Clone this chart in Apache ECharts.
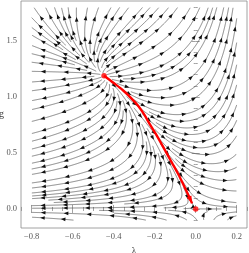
<!DOCTYPE html>
<html><head><meta charset="utf-8">
<script src="https://cdn.jsdelivr.net/npm/echarts@6/dist/echarts.min.js"></script>
<style>html,body{margin:0;padding:0;background:#fff}#c{width:249px;height:253px}</style>
</head><body><div id="c"></div>
<script>
// ---------- data ----------
const xRange = [-0.852, 0.25];          // plotted lambda range
const yRange = [-0.17, 1.857];          // plotted g range
const streamX = [-0.8, 0.2];            // stream plot region (lambda)
const streamY = [-0.1, 1.8];            // stream plot region (g)
const xMajorTicks = [-0.8, -0.6, -0.4, -0.2, 0.0, 0.2];
const xMinorTicks = [-0.85, -0.75, -0.7, -0.65, -0.55, -0.5, -0.45, -0.35, -0.3, -0.25, -0.15, -0.1, -0.05, 0.05, 0.1, 0.15, 0.25];
const yMajorTicks = [0.0, 0.5, 1.0, 1.5];
const yMinorTicks = [-0.1, 0.1, 0.2, 0.3, 0.4, 0.6, 0.7, 0.8, 0.9, 1.1, 1.2, 1.3, 1.4, 1.6, 1.7, 1.8];
const fixedPoints = [[0.0, 0.0], [-0.447, 1.19]];   // Gaussian and non-Gaussian fixed points
// highlighted trajectory (red): lambda and g values
const redLambda = [-0.447, -0.40, -0.355, -0.315, -0.28, -0.25, -0.222, -0.185, -0.15, -0.115, -0.085, -0.057, -0.035, -0.018];
const redG      = [1.19, 1.125, 1.06, 0.99, 0.92, 0.84, 0.75, 0.64, 0.525, 0.41, 0.31, 0.205, 0.12, 0.05];
// flow field coefficients (IR direction):  dλ = 2λ + g·p(λ),  dg = g·(−2 + g·a(λ))
const aGrowth = 9.0, aAmp = 1.65;    // a(λ) = a0 + aAmp·exp(aGrowth·λ)
const pSlope = 0.672;                // p(λ) = p0 + pSlope·(λ − λ*)

// ---------- flow ----------
const LS = fixedPoints[1][0], GS = fixedPoints[1][1];
const a0 = 2 / GS - aAmp * Math.exp(aGrowth * LS);
const p0 = -2 * LS / GS;
function field(l, g) {
  const a = a0 + aAmp * Math.exp(aGrowth * l);
  const p = p0 + pSlope * (l - LS);
  return [2 * l + g * p, g * (-2 + g * a)];
}

// ---------- layout ----------
const GRID = { left: 21, right: 2, top: 1, bottom: 25 };
const PW = 249 - GRID.left - GRID.right, PH = 253 - GRID.top - GRID.bottom;
const kx = PW / (xRange[1] - xRange[0]), ky = PH / (yRange[1] - yRange[0]);
function toP(l, g) { return [(l - xRange[0]) * kx, (g - yRange[0]) * ky]; }
function toD(X, Y) { return [xRange[0] + X / kx, yRange[0] + Y / ky]; }
const pMin = toP(streamX[0], streamY[0]), pMax = toP(streamX[1], streamY[1]);
function dirAt(X, Y) {
  const d = toD(X, Y); const f = field(d[0], d[1]);
  const vx = f[0] * kx, vy = f[1] * ky; const n = Math.hypot(vx, vy);
  if (!(n > 1e-12)) return null; return [vx / n, vy / n];
}
function rk(X, Y, h) {
  const k1 = dirAt(X, Y); if (!k1) return null;
  const k2 = dirAt(X + 0.5 * h * k1[0], Y + 0.5 * h * k1[1]); if (!k2) return null;
  const k3 = dirAt(X + 0.5 * h * k2[0], Y + 0.5 * h * k2[1]); if (!k3) return null;
  const k4 = dirAt(X + h * k3[0], Y + h * k3[1]); if (!k4) return null;
  return [X + h * (k1[0] + 2 * k2[0] + 2 * k3[0] + k4[0]) / 6, Y + h * (k1[1] + 2 * k2[1] + 2 * k3[1] + k4[1]) / 6];
}
const fpP = fixedPoints.map(p => toP(p[0], p[1]));
const inside = (X, Y) => X >= pMin[0] && X <= pMax[0] && Y >= pMin[1] && Y <= pMax[1];

// ---------- evenly spaced streamlines ----------
const DSEP = 6.5, DTEST = 2.6, STEP = 0.5;
const cell = DSEP, gw = Math.ceil(PW / cell) + 2, gh = Math.ceil(PH / cell) + 2;
const buckets = Array.from({ length: gw * gh }, () => []);
function addPt(X, Y, id) { const i = Math.floor(X / cell), j = Math.floor(Y / cell); if (i >= 0 && j >= 0 && i < gw && j < gh) buckets[j * gw + i].push([X, Y, id]); }
function minDist(X, Y, id) {
  const i = Math.floor(X / cell), j = Math.floor(Y / cell); let m = 1e9;
  for (let a = i - 1; a <= i + 1; a++) for (let b = j - 1; b <= j + 1; b++) {
    if (a < 0 || b < 0 || a >= gw || b >= gh) continue;
    for (const p of buckets[b * gw + a]) { if (p[2] === id) continue; const d = Math.hypot(p[0] - X, p[1] - Y); if (d < m) m = d; }
  }
  return m;
}
const lines = [];
function trace(X, Y, sign, id) {
  const pts = []; let prev = null;
  for (let s = 0; s < 2500; s++) {
    const n = rk(X, Y, STEP * sign); if (!n) break;
    if (!inside(n[0], n[1])) break;
    if (fpP.some(f => Math.hypot(n[0] - f[0], n[1] - f[1]) < 2.5)) break;
    if (minDist(n[0], n[1], id) < DTEST) break;
    if (prev) { const d1x = X - prev[0], d1y = Y - prev[1], d2x = n[0] - X, d2y = n[1] - Y; if (d1x * d2x + d1y * d2y < 0) break; }
    prev = [X, Y]; X = n[0]; Y = n[1]; pts.push([X, Y]);
  }
  return pts;
}
const queue = [];
function tryLine(X, Y) {
  if (!inside(X, Y) || minDist(X, Y, -1) < DSEP) return;
  if (fpP.some(f => Math.hypot(X - f[0], Y - f[1]) < 3)) return;
  const id = lines.length;
  const b = trace(X, Y, -1, id).reverse();
  const f = trace(X, Y, 1, id);
  const pts = b.concat([[X, Y]], f);
  if (pts.length * STEP < 9) return;
  lines.push(pts); pts.forEach(p => addPt(p[0], p[1], id)); queue.push(pts);
}
function drain() {
  while (queue.length) {
    const p = queue.shift();
    for (let i = 2; i < p.length - 2; i += 4) {
      const tx = p[i + 1][0] - p[i - 1][0], ty = p[i + 1][1] - p[i - 1][1], n = Math.hypot(tx, ty) || 1;
      const nx = -ty / n, ny = tx / n;
      tryLine(p[i][0] + nx * DSEP, p[i][1] + ny * DSEP);
      tryLine(p[i][0] - nx * DSEP, p[i][1] - ny * DSEP);
    }
  }
}
tryLine((pMin[0] + pMax[0]) / 2, (pMin[1] + pMax[1]) / 2); drain();
for (let Y = pMin[1] + 1; Y < pMax[1]; Y += DSEP / 2) for (let X = pMin[0] + 1; X < pMax[0]; X += DSEP / 2) { tryLine(X, Y); drain(); }
const streamData = lines.map(pts => pts.map(p => toD(p[0], p[1])));
const redData = redLambda.map((l, i) => [l, redG[i]]);

// ---------- rendering ----------
function arrowsAlong(pts, spacing) {
  let L = 0; for (let i = 1; i < pts.length; i++) L += Math.hypot(pts[i][0] - pts[i - 1][0], pts[i][1] - pts[i - 1][1]);
  if (L < 8) return [];
  const n = Math.max(1, Math.round(L / spacing)); const out = []; let acc = 0, k = 0;
  for (let i = 1; i < pts.length && k < n; i++) {
    const dx = pts[i][0] - pts[i - 1][0], dy = pts[i][1] - pts[i - 1][1], l = Math.hypot(dx, dy);
    if (l === 0) continue;
    while (k < n && acc + l >= (k + 0.5) * L / n) { const t = ((k + 0.5) * L / n - acc) / l; out.push([pts[i - 1][0] + dx * t, pts[i - 1][1] + dy * t, dx / l, dy / l]); k++; }
    acc += l;
  }
  return out;
}
function tri(x, y, ux, uy, len, hw) {
  const tx = x + ux * len * 0.5, ty = y + uy * len * 0.5, bx = x - ux * len * 0.5, by = y - uy * len * 0.5;
  return [[tx, ty], [bx - uy * hw, by + ux * hw], [bx + uy * hw, by - ux * hw]];
}
const fontFam = '"Liberation Serif", "DejaVu Serif", serif';
const fmt = v => (v < 0 ? '\u2212' : '') + Math.abs(v).toFixed(1);
function xAxisDef(pos, ticks, len, labels, name) {
  return {
    type: 'value', gridIndex: 0, position: pos, min: xRange[0], max: xRange[1],
    axisLine: { show: false }, splitLine: { show: false },
    axisTick: { show: true, inside: true, length: len, customValues: ticks, lineStyle: { color: '#8a8a8a', width: 0.8 } },
    axisLabel: { show: labels, customValues: xMajorTicks, formatter: fmt, fontFamily: fontFam, fontSize: 8.5, color: '#555', margin: 4 },
    name: name || '', nameLocation: 'middle', nameGap: 15, nameTextStyle: { fontFamily: fontFam, fontSize: 10, color: '#444' }
  };
}
function yAxisDef(pos, ticks, len, labels) {
  return {
    type: 'value', gridIndex: 0, position: pos, min: yRange[0], max: yRange[1],
    axisLine: { show: false }, splitLine: { show: false },
    axisTick: { show: true, inside: true, length: len, customValues: ticks, lineStyle: { color: '#8a8a8a', width: 0.8 } },
    axisLabel: { show: labels, customValues: yMajorTicks, formatter: fmt, fontFamily: fontFam, fontSize: 8.5, color: '#555', margin: 4 }
  };
}
const series = [
  {
    type: 'custom', xAxisIndex: 0, yAxisIndex: 0, silent: true, clip: true,
    data: streamData.map((l, i) => [l[0][0], l[0][1], i]),
    encode: { x: 0, y: 1 },
    renderItem: function (params, api) {
      const line = streamData[params.dataIndex];
      const pts = line.map(p => api.coord(p));
      const ch = [{ type: 'polyline', shape: { points: pts }, style: { stroke: '#444', lineWidth: 0.65, fill: null } }];
      arrowsAlong(pts, 22).forEach(a => ch.push({ type: 'polygon', shape: { points: tri(a[0], a[1], a[2], a[3], 4.6, 1.8) }, style: { fill: '#111' } }));
      return { type: 'group', children: ch };
    }
  },
  {
    type: 'line', xAxisIndex: 0, yAxisIndex: 0, data: redData, showSymbol: false, silent: true, smooth: 0.3,
    lineStyle: { color: '#ff0000', width: 2.4 }, z: 3
  },
  {
    type: 'custom', xAxisIndex: 0, yAxisIndex: 0, silent: true, z: 4,
    data: [redData[redData.length - 1]], encode: { x: 0, y: 1 },
    renderItem: function (params, api) {
      const n = redData.length; const a = api.coord(redData[n - 2]), b = api.coord(redData[n - 1]);
      const dx = b[0] - a[0], dy = b[1] - a[1], l = Math.hypot(dx, dy) || 1;
      const ux = dx / l, uy = dy / l;
      return { type: 'polygon', shape: { points: tri(b[0] - ux * 3.5, b[1] - uy * 3.5, ux, uy, 8, 2.6) }, style: { fill: '#ff0000' } };
    }
  },
  {
    type: 'scatter', xAxisIndex: 0, yAxisIndex: 0, data: fixedPoints, symbol: 'circle', symbolSize: 5.5, silent: true,
    itemStyle: { color: '#ff0000' }, z: 5
  }
];
const chart = echarts.init(document.getElementById('c'), null, { renderer: 'canvas' });
chart.setOption({
  animation: false,
  backgroundColor: '#fff',
  grid: { left: GRID.left, right: GRID.right, top: GRID.top, bottom: GRID.bottom, show: true, borderColor: '#8a8a8a', borderWidth: 0.8, containLabel: false, outerBoundsMode: 'none' },
  graphic: [{ type: 'text', x: -1, y: GRID.top + PH / 2, silent: true, style: { text: 'g', fontFamily: fontFam, fontSize: 10, fill: '#444', align: 'left', verticalAlign: 'middle' } }],
  xAxis: [xAxisDef('bottom', xMajorTicks, 4, true, '\u03bb'), xAxisDef('bottom', xMinorTicks, 2, false), xAxisDef('top', xMajorTicks, 4, false), xAxisDef('top', xMinorTicks, 2, false)],
  yAxis: [yAxisDef('left', yMajorTicks, 4, true), yAxisDef('left', yMinorTicks, 2, false), yAxisDef('right', yMajorTicks, 4, false), yAxisDef('right', yMinorTicks, 2, false)],
  series: series
});
</script></body></html>
